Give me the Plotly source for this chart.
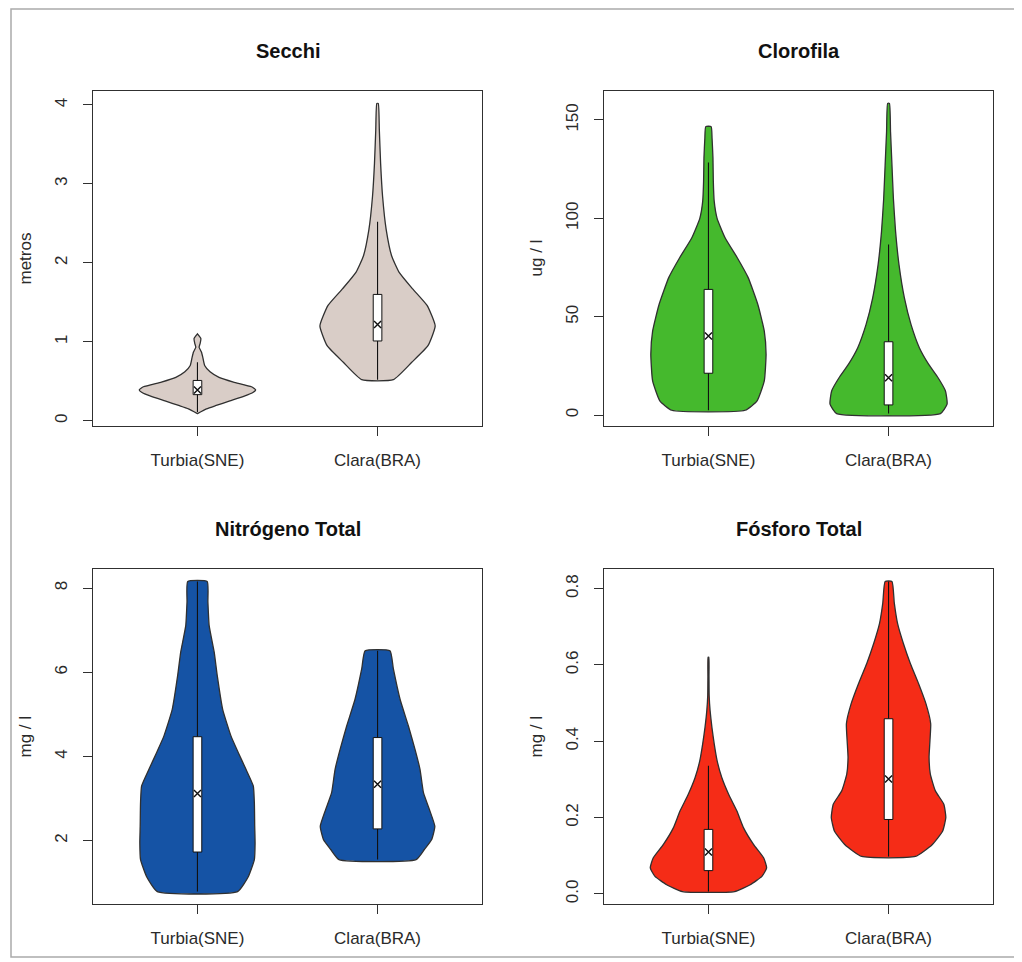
import plotly.graph_objects as go

# the page places the figure 8px from the window's top-left corner
OFF = 8
W, H = 1022 - OFF, 962 - OFF

categories = ["Turbia(SNE)", "Clara(BRA)"]
titles = ["Secchi", "Clorofila", "Nitrógeno Total", "Fósforo Total"]
ylabels = ["metros", "ug / l", "mg / l", "mg / l"]
fills = ["#d9cdc7", "#45b92d", "#1553a5", "#f52c17"]

# y tick values / labels per panel
yticks = [[0, 1, 2, 3, 4], [0, 50, 100, 150], [2, 4, 6, 8], [0.0, 0.2, 0.4, 0.6, 0.8]]
yticktext = [["0", "1", "2", "3", "4"], ["0", "50", "100", "150"], ["2", "4", "6", "8"],
             ["0.0", "0.2", "0.4", "0.6", "0.8"]]

# ---- violin density profiles (value level, half width) ----
secchi_turbia_y = [0.09, 0.15, 0.19, 0.25, 0.31, 0.36, 0.39, 0.43, 0.49, 0.55, 0.62, 0.70, 0.80, 0.87, 0.93, 0.98, 1.04, 1.10]
secchi_turbia_w = [0.0, 0.05, 0.10, 0.18, 0.26, 0.31, 0.323, 0.30, 0.20, 0.12, 0.07, 0.04, 0.03, 0.022, 0.009, 0.015, 0.019, 0.0]
secchi_clara_y = [0.52, 0.74, 0.95, 1.20, 1.46, 1.67, 1.88, 2.09, 2.42, 2.84, 3.26, 3.68, 4.02]
secchi_clara_w = [0.088, 0.19, 0.28, 0.32, 0.275, 0.195, 0.12, 0.078, 0.048, 0.028, 0.017, 0.01, 0.004]

cloro_turbia_y = [2.5, 7.3, 17.4, 31.0, 42.7, 56.0, 70.0, 80.0, 90.0, 100.0, 108.6, 118.8, 130.6, 140.7, 146.6]
cloro_turbia_w = [0.204, 0.27, 0.31, 0.32, 0.31, 0.275, 0.22, 0.16, 0.093, 0.048, 0.032, 0.027, 0.025, 0.02, 0.015]
cloro_clara_y = [0.8, 5.6, 12.3, 19.0, 25.8, 34.3, 46.0, 59.6, 76.5, 93.4, 110.0, 127.0, 144.0, 158.4]
cloro_clara_w = [0.288, 0.325, 0.316, 0.275, 0.223, 0.171, 0.125, 0.088, 0.058, 0.039, 0.027, 0.019, 0.011, 0.005]

nitro_turbia_y = [0.79, 1.15, 1.55, 1.94, 2.34, 2.90, 3.30, 3.69, 4.09, 4.49, 5.12, 5.92, 6.48, 7.11, 7.67, 8.16]
nitro_turbia_w = [0.223, 0.283, 0.316, 0.32, 0.318, 0.316, 0.31, 0.27, 0.227, 0.186, 0.14, 0.11, 0.093, 0.065, 0.058, 0.054]
nitro_clara_y = [1.55, 1.79, 2.02, 2.34, 2.74, 3.14, 3.69, 4.17, 4.73, 5.36, 6.08, 6.51]
nitro_clara_w = [0.214, 0.26, 0.30, 0.318, 0.288, 0.255, 0.236, 0.208, 0.171, 0.125, 0.088, 0.069]

fosf_turbia_y = [0.006, 0.024, 0.046, 0.068, 0.094, 0.129, 0.173, 0.217, 0.261, 0.305, 0.349, 0.393, 0.437, 0.481, 0.52, 0.57, 0.62]
fosf_turbia_w = [0.145, 0.232, 0.297, 0.323, 0.307, 0.251, 0.195, 0.158, 0.112, 0.074, 0.048, 0.032, 0.019, 0.009, 0.004, 0.003, 0.002]
fosf_clara_y = [0.098, 0.129, 0.164, 0.20, 0.235, 0.27, 0.314, 0.358, 0.402, 0.446, 0.498, 0.551, 0.604, 0.657, 0.709, 0.762, 0.819]
fosf_clara_w = [0.149, 0.242, 0.30, 0.318, 0.307, 0.26, 0.232, 0.225, 0.23, 0.234, 0.208, 0.167, 0.121, 0.082, 0.05, 0.032, 0.019]

# ---- box statistics: [whisker low, Q1, median, Q3, whisker high] ----
secchi_turbia_box = [0.11, 0.33, 0.39, 0.51, 0.74]
secchi_clara_box = [0.52, 1.01, 1.22, 1.60, 2.52]
cloro_turbia_box = [2.5, 21.3, 40.2, 63.9, 128.4]
cloro_clara_box = [0.8, 5.2, 19.0, 37.3, 86.7]
nitro_turbia_box = [0.79, 1.73, 3.12, 4.47, 8.16]
nitro_clara_box = [1.55, 2.28, 3.34, 4.45, 6.51]
fosf_turbia_box = [0.006, 0.061, 0.11, 0.169, 0.336]
fosf_clara_box = [0.098, 0.195, 0.301, 0.459, 0.819]

panels = [
    [(secchi_turbia_y, secchi_turbia_w, secchi_turbia_box), (secchi_clara_y, secchi_clara_w, secchi_clara_box)],
    [(cloro_turbia_y, cloro_turbia_w, cloro_turbia_box), (cloro_clara_y, cloro_clara_w, cloro_clara_box)],
    [(nitro_turbia_y, nitro_turbia_w, nitro_turbia_box), (nitro_clara_y, nitro_clara_w, nitro_clara_box)],
    [(fosf_turbia_y, fosf_turbia_w, fosf_turbia_box), (fosf_clara_y, fosf_clara_w, fosf_clara_box)],
]

# ---- layout geometry (window pixels) ----
col_px = [(93, 482), (604, 993)]
row_px = [(91, 426), (569, 904)]
BOX_HW = 0.024
FONT = "Liberation Sans, Arial, Helvetica, sans-serif"
TXT = "#2a2a2a"
LINE = "#303030"


def fx(p):
    return (p - OFF) / W


def fy(p):
    return 1 - (p - OFF) / H


fig = go.Figure()
annotations = []
layout_axes = {}

for i in range(4):
    r, c = divmod(i, 2)
    x0p, x1p = col_px[c]
    y0p, y1p = row_px[r]
    sx = "" if i == 0 else str(i + 1)
    xa, ya = "x" + sx, "y" + sx

    lo = min(min(v[0]) for v in panels[i])
    hi = max(max(v[0]) for v in panels[i])
    pad = 0.04 * (hi - lo)

    for k, (vy, vw, bx) in enumerate(panels[i]):
        cx = k + 1
        px = [cx + w for w in vw] + [cx - w for w in reversed(vw)]
        py = list(vy) + list(reversed(vy))
        px.append(px[0]); py.append(py[0])
        fig.add_trace(go.Scatter(x=px, y=py, xaxis=xa, yaxis=ya, mode="lines",
                                 fill="toself", fillcolor=fills[i],
                                 line=dict(color=LINE, width=1.3, shape="spline", smoothing=0.45),
                                 hoverinfo="skip", showlegend=False))
        # whisker
        fig.add_trace(go.Scatter(x=[cx, cx], y=[bx[0], bx[4]], xaxis=xa, yaxis=ya, mode="lines",
                                 line=dict(color="#111", width=1.1), hoverinfo="skip", showlegend=False))
        # box
        fig.add_trace(go.Scatter(x=[cx - BOX_HW, cx + BOX_HW, cx + BOX_HW, cx - BOX_HW, cx - BOX_HW],
                                 y=[bx[1], bx[1], bx[3], bx[3], bx[1]], xaxis=xa, yaxis=ya, mode="lines",
                                 fill="toself", fillcolor="white", line=dict(color="#111", width=1),
                                 hoverinfo="skip", showlegend=False))
        # median
        fig.add_trace(go.Scatter(x=[cx], y=[bx[2]], xaxis=xa, yaxis=ya, mode="markers",
                                 marker=dict(symbol="x-thin", size=7, line=dict(color="#111", width=1.4)),
                                 hoverinfo="skip", showlegend=False))

    dom_x = [fx(x0p), fx(x1p)]
    dom_y = [fy(y1p), fy(y0p)]
    layout_axes["xaxis" + sx] = dict(domain=dom_x, anchor=ya, range=[0.42, 2.58],
                                     tickvals=[1, 2], ticktext=categories, ticks="outside",
                                     ticklen=9, tickcolor=LINE, tickwidth=1, showline=True,
                                     linecolor=LINE, linewidth=1.2, mirror=True, showgrid=False,
                                     zeroline=False, ticklabelstandoff=9,
                                     tickfont=dict(family=FONT, size=17, color=TXT))
    layout_axes["yaxis" + sx] = dict(domain=dom_y, anchor=xa, range=[lo - pad, hi + pad],
                                     tickvals=yticks[i], ticktext=yticktext[i], tickangle=-90,
                                     ticks="outside", ticklen=9, tickcolor=LINE, tickwidth=1,
                                     showline=True, linecolor=LINE, linewidth=1.2, mirror=True,
                                     showgrid=False, zeroline=False, ticklabelstandoff=9,
                                     tickfont=dict(family=FONT, size=17, color=TXT))
    annotations.append(dict(text="<b>" + titles[i] + "</b>", xref="paper", yref="paper",
                            x=fx((x0p + x1p) / 2), y=fy(y0p - 40), xanchor="center",
                            yanchor="middle", showarrow=False,
                            font=dict(family=FONT, size=20, color="#111")))
    annotations.append(dict(text=ylabels[i], xref="paper", yref="paper",
                            x=fx(x0p - 68), y=fy((y0p + y1p) / 2), xanchor="center",
                            yanchor="middle", textangle=-90, showarrow=False,
                            font=dict(family=FONT, size=17, color=TXT)))

fig.update_layout(
    width=W, height=H, margin=dict(l=0, r=0, t=0, b=0),
    paper_bgcolor="white", plot_bgcolor="white",
    annotations=annotations,
    shapes=[dict(type="rect", xref="paper", yref="paper", x0=fx(11), x1=fx(1019),
                 y0=fy(957), y1=fy(9), line=dict(color="#aaaaaa", width=1.5))],
    **layout_axes,
)

fig.write_html("out.html")
